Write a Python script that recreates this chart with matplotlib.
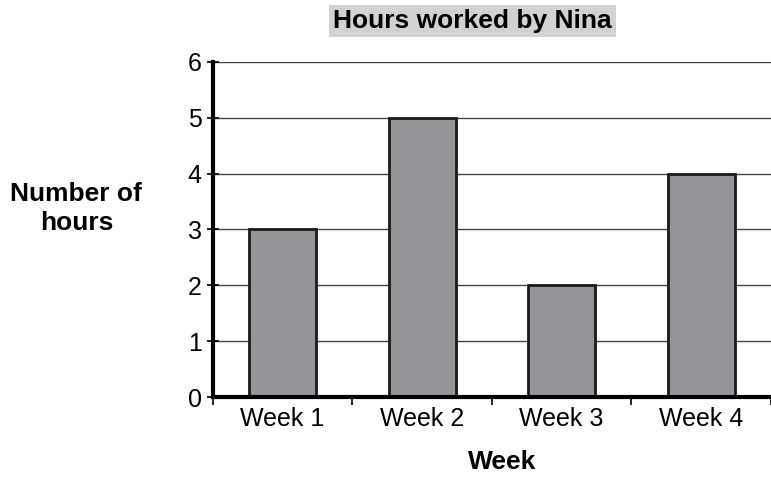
import matplotlib
matplotlib.use("Agg")
import matplotlib.pyplot as plt

# data
weeks = ["Week 1", "Week 2", "Week 3", "Week 4"]
hours = [3, 5, 2, 4]
y_ticks = [0, 1, 2, 3, 4, 5, 6]

plt.rcParams["font.family"] = ["Liberation Sans", "DejaVu Sans"]

fig = plt.figure(figsize=(7.71, 4.79), dpi=100)
ax = fig.add_axes([0.276, 0.171, 0.724, 0.700])

x = list(range(len(weeks)))
ax.bar(x, hours, width=0.48, color="#939598", edgecolor="#1a1a1a",
       linewidth=2, zorder=3)

ax.set_xlim(-0.5, len(weeks) - 0.5)
ax.set_ylim(0, 6)
ax.set_yticks(y_ticks)
ax.yaxis.grid(True, color="#444444", linewidth=1.0, zorder=0)

# category labels centred, tick marks between categories
ax.set_xticks(x)
ax.set_xticklabels(weeks)
ax.set_xticks([i - 0.5 for i in range(len(weeks) + 1)], minor=True)
ax.tick_params(axis="x", which="major", length=0, labelsize=18, pad=7)
ax.tick_params(axis="x", which="minor", length=6, width=1.2, direction="out")
ax.tick_params(axis="y", length=8, width=1.2, direction="inout", labelsize=18, pad=4)

for side in ["top", "right"]:
    ax.spines[side].set_visible(False)
ax.spines["left"].set_linewidth(3)
ax.spines["bottom"].set_linewidth(3)
ax.spines["bottom"].set_zorder(4)

fig.text(0.651, 0.035, "Week", fontsize=19, fontweight="bold",
         ha="center", va="center")

fig.text(0.099, 0.565, "Number of\nhours", fontsize=19, fontweight="bold",
         ha="center", va="center", linespacing=1.3)

fig.text(0.613, 0.956, "Hours worked by Nina", fontsize=19, fontweight="bold",
         ha="center", va="center",
         bbox=dict(facecolor="#d1d2d4", edgecolor="none", pad=3))

fig.savefig("out.png", dpi=100)
